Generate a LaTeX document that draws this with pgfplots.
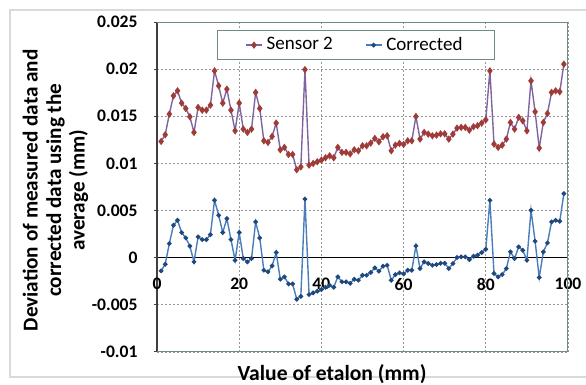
\documentclass[border=0pt]{standalone}
\usepackage{fontspec}
\setmainfont{Carlito}
\usepackage{pgfplots}
\usepackage{pgfplotstable}
\pgfplotsset{compat=1.18}
\definecolor{sline}{RGB}{128,100,162}
\definecolor{smark}{RGB}{160,60,55}
\definecolor{cline}{RGB}{74,126,187}
\definecolor{cmark}{RGB}{31,73,125}
\definecolor{framec}{RGB}{110,140,130}
\definecolor{gridc}{RGB}{150,150,150}
\pgfplotstableread{
x s c
1 0.01233 -0.00140
2 0.01304 -0.00069
3 0.01523 0.00150
4 0.01717 0.00344
5 0.01770 0.00397
6 0.01640 0.00267
7 0.01583 0.00210
8 0.01495 0.00122
9 0.01329 -0.00044
10 0.01594 0.00221
11 0.01565 0.00192
12 0.01565 0.00192
13 0.01618 0.00245
14 0.01982 0.00609
15 0.01823 0.00450
16 0.01640 0.00267
17 0.01788 0.00415
18 0.01565 0.00192
19 0.01346 -0.00027
20 0.01640 0.00267
21 0.01364 -0.00009
22 0.01329 -0.00044
23 0.01364 -0.00009
24 0.01753 0.00380
25 0.01583 0.00210
26 0.01240 -0.00133
27 0.01223 -0.00150
28 0.01286 -0.00087
29 0.01428 0.00055
30 0.01145 -0.00228
31 0.01170 -0.00203
32 0.01095 -0.00278
33 0.01095 -0.00278
34 0.00933 -0.00440
35 0.00963 -0.00410
36 0.01995 0.00622
37 0.00982 -0.00391
38 0.01000 -0.00373
39 0.01018 -0.00355
40 0.01035 -0.00338
41 0.01060 -0.00313
42 0.01081 -0.00292
43 0.01060 -0.00313
44 0.01170 -0.00203
45 0.01117 -0.00256
46 0.01117 -0.00256
47 0.01102 -0.00271
48 0.01145 -0.00228
49 0.01134 -0.00239
50 0.01187 -0.00186
51 0.01187 -0.00186
52 0.01216 -0.00157
53 0.01265 -0.00108
54 0.01230 -0.00143
55 0.01283 -0.00090
56 0.01293 -0.00080
57 0.01134 -0.00239
58 0.01194 -0.00179
59 0.01212 -0.00161
60 0.01201 -0.00172
61 0.01240 -0.00133
62 0.01240 -0.00133
63 0.01498 0.00125
64 0.01258 -0.00115
65 0.01329 -0.00044
66 0.01311 -0.00062
67 0.01293 -0.00080
68 0.01300 -0.00073
69 0.01314 -0.00059
70 0.01314 -0.00059
71 0.01258 -0.00115
72 0.01311 -0.00062
73 0.01375 0.00002
74 0.01382 0.00009
75 0.01382 0.00009
76 0.01353 -0.00020
77 0.01389 0.00016
78 0.01400 0.00027
79 0.01428 0.00055
80 0.01463 0.00090
81 0.01982 0.00609
82 0.01205 -0.00168
83 0.01170 -0.00203
84 0.01194 -0.00179
85 0.01258 -0.00115
86 0.01435 0.00062
87 0.01364 -0.00009
88 0.01488 0.00115
89 0.01452 0.00079
90 0.01346 -0.00027
91 0.01876 0.00503
92 0.01548 0.00175
93 0.01163 -0.00210
94 0.01435 0.00062
95 0.01530 0.00157
96 0.01753 0.00380
97 0.01770 0.00397
98 0.01760 0.00387
99 0.02053 0.00680
}\data
\begin{document}
\begin{tikzpicture}
\useasboundingbox (0pt,0pt) rectangle (293pt,192.5pt);
\draw[black!15, line width=0.6pt] (5pt,4pt) rectangle (296pt,187.5pt);
\begin{axis}[at={(78.5pt,16.5pt)}, anchor=south west, scale only axis,
  width=205.5pt, height=165pt,
  xmin=0, xmax=100, ymin=-0.01, ymax=0.025,
  axis y line*=left, axis x line*=middle,
  hide obscured x ticks=false, hide obscured y ticks=false,
  x axis line style={-, black, line width=0.6pt},
  y axis line style={-, black!75, line width=0.6pt},
  xtick={0,20,40,60,80,100}, xticklabels={0,20,40,60,80,100},
  ytick={-0.01,-0.005,0,0.005,0.01,0.015,0.02,0.025},
  yticklabels={-0.01,-0.005,0,0.005,0.01,0.015,0.02,0.025},
  scaled y ticks=false, scaled x ticks=false,
  x tick style={draw=none},
  y tick style={black!75, line width=0.5pt},
  tick align=outside, major tick length=1.7pt,
  ticklabel style={font=\bfseries\fontsize{8.8}{10}\selectfont},
  xticklabel style={yshift=-5pt},
  yticklabel style={xshift=-4.5pt},
  grid=major,
  major grid style={gridc, dash pattern=on 1pt off 1pt, line width=0.4pt},
  ylabel={Deviation of measured data and\\corrected data using the\\average (mm)},
  ylabel style={align=center, font=\bfseries\fontsize{10.6}{11.8}\selectfont, at={(axis description cs:-0.247,0.49)}, anchor=center},
  xlabel={Value of etalon (mm)},
  xlabel style={font=\bfseries\fontsize{10.8}{11.8}\selectfont, at={(axis description cs:0.426,-0.0667)}, anchor=center},
  legend style={at={(axis description cs:0.484,0.930)}, anchor=center, draw=framec, fill=white,
    font=\fontsize{9.5}{11}\selectfont, inner xsep=14pt, inner ysep=1.2pt,
    /tikz/every even column/.append style={column sep=14pt}},
  legend columns=2,
  legend image code/.code={\draw[mark repeat=2,mark phase=2,#1] plot coordinates {(0pt,0pt) (4pt,0pt) (8pt,0pt)};},
]
\draw[framec, line width=0.5pt] (rel axis cs:0,0) -- (rel axis cs:1,0) -- (rel axis cs:1,1) -- (rel axis cs:0,1);
\addplot[sline, line width=0.7pt, mark=diamond*, mark size=1.3pt, mark options={smark, fill=smark, solid}] table[x=x,y=s]{\data};
\addlegendentry{Sensor 2}
\addplot[cline, line width=0.7pt, mark=*, mark size=0.8pt, mark options={cmark, fill=cmark, solid}] table[x=x,y=c]{\data};
\addlegendentry{Corrected}
\end{axis}
\end{tikzpicture}
\end{document}
